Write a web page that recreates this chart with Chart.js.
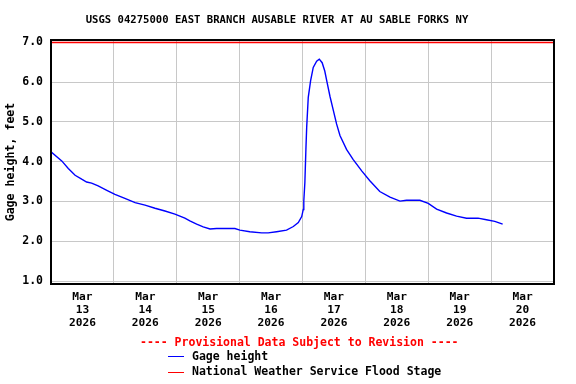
<!DOCTYPE html>
<html>
<head>
<meta charset="utf-8">
<script src="https://cdn.jsdelivr.net/npm/chart.js@4"></script>
<style>
  html, body { margin: 0; padding: 0; background: #fff; overflow: hidden; }
  #wrap { position: relative; width: 576px; height: 384px; }
  #c { position: absolute; left: 0; top: 0; }
  .lg { position: absolute; font-family: 'DejaVu Sans Mono', monospace; font-weight: bold; font-size: 11.5px; line-height: 13px; white-space: pre; color: #000; }
  .sw { position: absolute; width: 16px; height: 1px; }
</style>
</head>
<body>
<div id="wrap">
  <canvas id="c" width="576" height="384"></canvas>
  <div class="lg" id="prov" style="left:140px; top:336px; color:#ff0000;"></div>
  <div class="sw" style="left:168px; top:356px; background:#0000ff;"></div>
  <div class="lg" id="lg1" style="left:192px; top:350px;"></div>
  <div class="sw" style="left:168px; top:372px; background:#ff0000;"></div>
  <div class="lg" id="lg2" style="left:192px; top:365px;"></div>
</div>
<script>
// ---- data ----
const titleText = 'USGS 04275000 EAST BRANCH AUSABLE RIVER AT AU SABLE FORKS NY';
const yAxisTitle = 'Gage height, feet';
const provisionalText = '---- Provisional Data Subject to Revision ----';
const seriesNames = ['Gage height', 'National Weather Service Flood Stage'];
// hours since Mar 13 2026 00:00
const hours = [0, 4.1, 6.6, 9.2, 11.7, 13.6, 15.5, 18.0, 21.3, 24.4, 28.2, 32.1, 35.9, 39.7, 43.5, 47.3,
  51.1, 53.0, 55.6, 58.1, 60.7, 63.2, 70.2, 72.1, 75.9, 80.4, 82.9, 86.1, 89.9, 92.5, 94.4, 95.7,
  96.3, 96.5, 96.9, 97.3, 97.6, 98.2, 99.1, 100.1, 101.4, 102.4, 103.5, 104.5, 105.4, 106.5, 107.7,
  109.0, 110.3, 112.8, 115.3, 118.6, 121.7, 125.5, 129.4, 133.2, 135.7, 140.8, 144.0, 147.2, 151.0,
  154.8, 158.6, 163.0, 166.2, 169.4, 172.4];
const gageHeight = [4.25, 4.02, 3.83, 3.66, 3.56, 3.49, 3.46, 3.39, 3.28, 3.18, 3.08, 2.97, 2.91, 2.83, 2.76, 2.68,
  2.58, 2.51, 2.43, 2.36, 2.31, 2.32, 2.32, 2.28, 2.24, 2.21, 2.21, 2.24, 2.28, 2.37, 2.47, 2.62,
  2.80, 3.02, 3.47, 4.31, 4.87, 5.62, 6.04, 6.37, 6.53, 6.58, 6.49, 6.28, 5.99, 5.64, 5.31,
  4.95, 4.66, 4.31, 4.06, 3.77, 3.52, 3.25, 3.11, 3.01, 3.03, 3.03, 2.95, 2.81, 2.71,
  2.63, 2.58, 2.58, 2.54, 2.50, 2.43];
const floodStage = 7.0;
const monthLabel = 'Mar';
const yearLabel = '2026';
const dayLabels = ['13', '14', '15', '16', '17', '18', '19', '20'];
const xTickHours = [0, 12, 24, 36, 48, 60, 72, 84, 96, 108, 120, 132, 144, 156, 168, 180, 192];
const yTicks = [1, 2, 3, 4, 5, 6, 7];

document.getElementById('prov').textContent = provisionalText;
document.getElementById('lg1').textContent = seriesNames[0];
document.getElementById('lg2').textContent = seriesNames[1];

const FONT = 'DejaVu Sans Mono';
Chart.defaults.font.family = FONT;
Chart.defaults.font.weight = 'bold';
Chart.defaults.color = '#000';

const framePlugin = {
  id: 'frame',
  afterDatasetsDraw(chart) {
    const a = chart.chartArea, ctx = chart.ctx;
    ctx.save();
    ctx.strokeStyle = '#000';
    ctx.lineWidth = 2;
    ctx.strokeRect(a.left, a.top, a.right - a.left, a.bottom - a.top);
    ctx.restore();
  }
};

new Chart(document.getElementById('c'), {
  type: 'line',
  data: {
    datasets: [
      {
        label: seriesNames[0],
        data: hours.map((h, i) => ({ x: h, y: gageHeight[i] })),
        borderColor: '#0000ff',
        borderWidth: 1.4,
        pointRadius: 0,
        tension: 0,
        fill: false
      },
      {
        label: seriesNames[1],
        data: [{ x: xTickHours[0], y: floodStage }, { x: xTickHours[xTickHours.length - 1], y: floodStage }],
        borderColor: '#ff0000',
        borderWidth: 1.5,
        pointRadius: 0,
        fill: false
      }
    ]
  },
  options: {
    responsive: false,
    animation: false,
    devicePixelRatio: 1,
    layout: { padding: { left: 0, right: 22, top: 0, bottom: 49 } },
    plugins: {
      legend: { display: false },
      tooltip: { enabled: false },
      title: {
        display: true,
        text: titleText,
        color: '#000',
        font: { size: 10.6, weight: 'bold', family: FONT, lineHeight: 1.2 },
        padding: { top: 14, bottom: 13.3 }
      }
    },
    scales: {
      x: {
        type: 'linear',
        min: xTickHours[0],
        max: xTickHours[xTickHours.length - 1],
        afterBuildTicks: s => { s.ticks = xTickHours.map(v => ({ value: v })); },
        afterFit: s => { s.height = 51; },
        border: { display: false },
        grid: {
          drawTicks: false,
          lineWidth: 1,
          color: ctx => (ctx.tick && ctx.tick.value % 24 === 0) ? '#c8c8c8' : 'rgba(0,0,0,0)'
        },
        ticks: {
          autoSkip: false,
          maxRotation: 0,
          minRotation: 0,
          padding: 7,
          font: { size: 11.2, weight: 'bold', family: FONT, lineHeight: 13 / 11.2 },
          callback: v => (v % 24 === 12) ? [monthLabel, dayLabels[(v - 12) / 24], yearLabel] : ''
        }
      },
      y: {
        type: 'linear',
        min: 0.925,
        max: 7.06,
        afterBuildTicks: s => { s.ticks = yTicks.map(v => ({ value: v })); },
        afterFit: s => { s.width = 51; },
        border: { display: false },
        grid: { drawTicks: false, color: '#c8c8c8', lineWidth: 1 },
        ticks: {
          padding: 8,
          font: { size: 11.5, weight: 'bold', family: FONT },
          callback: v => Number(v).toFixed(1)
        },
        title: {
          display: true,
          text: yAxisTitle,
          color: '#000',
          font: { size: 11.6, weight: 'bold', family: FONT, lineHeight: 1.2 },
          padding: { top: 4, bottom: 0 }
        }
      }
    }
  },
  plugins: [framePlugin]
});
</script>
</body>
</html>
